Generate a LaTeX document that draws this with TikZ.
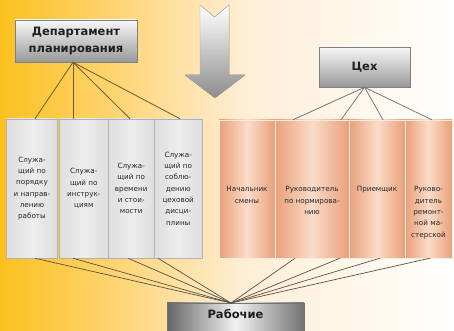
\documentclass[tikz,border=0pt]{standalone}
\usepackage{fontspec}
\setmainfont{DejaVu Sans}
\definecolor{bgA}{HTML}{FBC11E}
\definecolor{bgB}{HTML}{FED577}
\definecolor{bgC}{HTML}{FEEDD4}
\definecolor{peachE}{HTML}{E9A07A}
\definecolor{peachM}{HTML}{FADCC8}
\definecolor{brownln}{HTML}{6E5A2E}
\definecolor{grayln}{HTML}{787878}
\definecolor{botln}{HTML}{5A5244}
\tikzset{
  hdr/.style={draw=black!50, line width=0.6pt, top color=black!3, bottom color=black!40,
    font=\bfseries\fontsize{11.5}{17}\selectfont, text=black!88, align=center, inner sep=0pt},
  lcol/.style={draw=black!30, line width=0.5pt, left color=black!13, right color=black!13, middle color=black!7,
    inner sep=0pt, align=center, font=\fontsize{7.2}{11.3}\selectfont, text=black!85},
  rcol/.style={draw=peachM!60!white, line width=0.4pt, left color=peachE, right color=peachE, middle color=peachM,
    inner sep=0pt},
  rtxt/.style={inner sep=0pt, align=center, anchor=north, font=\fontsize{7.2}{11.3}\selectfont, text=black!85},
  brl/.style={draw=brownln, line width=0.8pt},
  grl/.style={draw=grayln, line width=0.8pt},
  bol/.style={draw=botln, line width=0.7pt},
}
\begin{document}
\begin{tikzpicture}[x=1pt,y=1pt]
\useasboundingbox (0,0) rectangle (454,331);
\begin{scope}
\clip (0,0) rectangle (454,331);
% background
\fill[left color=bgA, right color=bgB] (0,0) rectangle (121,331);
\fill[left color=bgB, right color=bgC] (120,0) rectangle (241,331);
\fill[left color=bgC, right color=white] (240,0) rectangle (454,331);
% arrow
\fill[top color=white, bottom color=black!45, draw=black!35, line width=0.4pt]
  (200,326) -- (214.5,314) -- (229,326) -- (229,256) -- (245,256) -- (215,233) -- (185,256) -- (200,256) -- cycle;
% header boxes
\node[hdr, minimum width=122, minimum height=42] (dep) at (76,290) {Департамент\\планирования};
\node[hdr, minimum width=91, minimum height=40] (shop) at (364.5,264) {Цех};
% left columns
\node[lcol, minimum width=50.6, minimum height=139] (c1) at (32,142.5) {Служа-\\щий по\\порядку\\и направ-\\лению\\работы};
\node[lcol, minimum width=48.8, minimum height=139] (c2) at (83.8,142.5) {Служа-\\щий по\\инструк-\\циям};
\node[lcol, minimum width=46, minimum height=139] (c3) at (131.2,142.5) {Служа-\\щий по\\времени\\и стои-\\мости};
\node[lcol, minimum width=48, minimum height=139] (c4) at (178.2,142.5) {Служа-\\щий по\\соблю-\\дению\\цеховой\\дисци-\\плины};
% right columns
\node[rcol, minimum width=56, minimum height=138] (r1) at (247,142) {};
\node[rcol, minimum width=74, minimum height=138] (r2) at (312,142) {};
\node[rcol, minimum width=56, minimum height=138] (r3) at (377,142) {};
\node[rcol, minimum width=47, minimum height=138] (r4) at (428.5,142) {};
\node[rtxt] (t1) at (247,144.5) {Начальник\\смены};
\node[rtxt] (t2) at (312,144.5) {Руководитель\\по нормирова-\\нию};
\node[rtxt] (t3) at (377,144.5) {Приемщик};
\node[rtxt] (t4) at (428.5,144.5) {Руково-\\дитель\\ремонт-\\ной ма-\\стерской};
% workers box
\node[draw=black!55, line width=0.6pt, left color=black!60, right color=black!55, middle color=black!5,
  minimum width=137, minimum height=34, inner sep=0pt, text height=7pt, text depth=9pt, text=black!88,
  font=\bfseries\fontsize{11.5}{12}\selectfont] (rab) at (235.5,11) {Рабочие};
\coordinate (conv) at (231,28);
% connectors from department
\draw[brl] ([xshift=-3pt]dep.south) -- ([xshift=3pt]c1.north);
\draw[brl] ([xshift=-3pt]dep.south) -- ([xshift=-10.8pt]c2.north);
\draw[brl] ([xshift=-3pt]dep.south) -- ([xshift=-1.2pt]c3.north);
\draw[brl] ([xshift=-3pt]dep.south) -- ([xshift=1.8pt]c4.north);
% connectors from shop
\draw[grl] (shop.south) -- ([xshift=46pt]r1.north);
\draw[grl] (shop.south) -- ([xshift=29pt]r2.north);
\draw[grl] (shop.south) -- ([xshift=6pt]r3.north);
\draw[grl] (shop.south) -- ([xshift=3.5pt]r4.north);
% connectors to workers
\draw[bol] ([xshift=3pt]c1.south) -- (conv);
\draw[bol] ([xshift=-10.8pt]c2.south) -- (conv);
\draw[bol] ([xshift=-3.2pt]c3.south) -- (conv);
\draw[bol] ([xshift=-20.2pt]c4.south) -- (conv);
\draw[bol] ([xshift=48pt]r1.south) -- (conv);
\draw[bol] ([xshift=28pt]r2.south) -- (conv);
\draw[bol] ([xshift=3pt]r3.south) -- (conv);
\draw[bol] ([xshift=1.5pt]r4.south) -- (conv);
\end{scope}
\end{tikzpicture}
\end{document}
